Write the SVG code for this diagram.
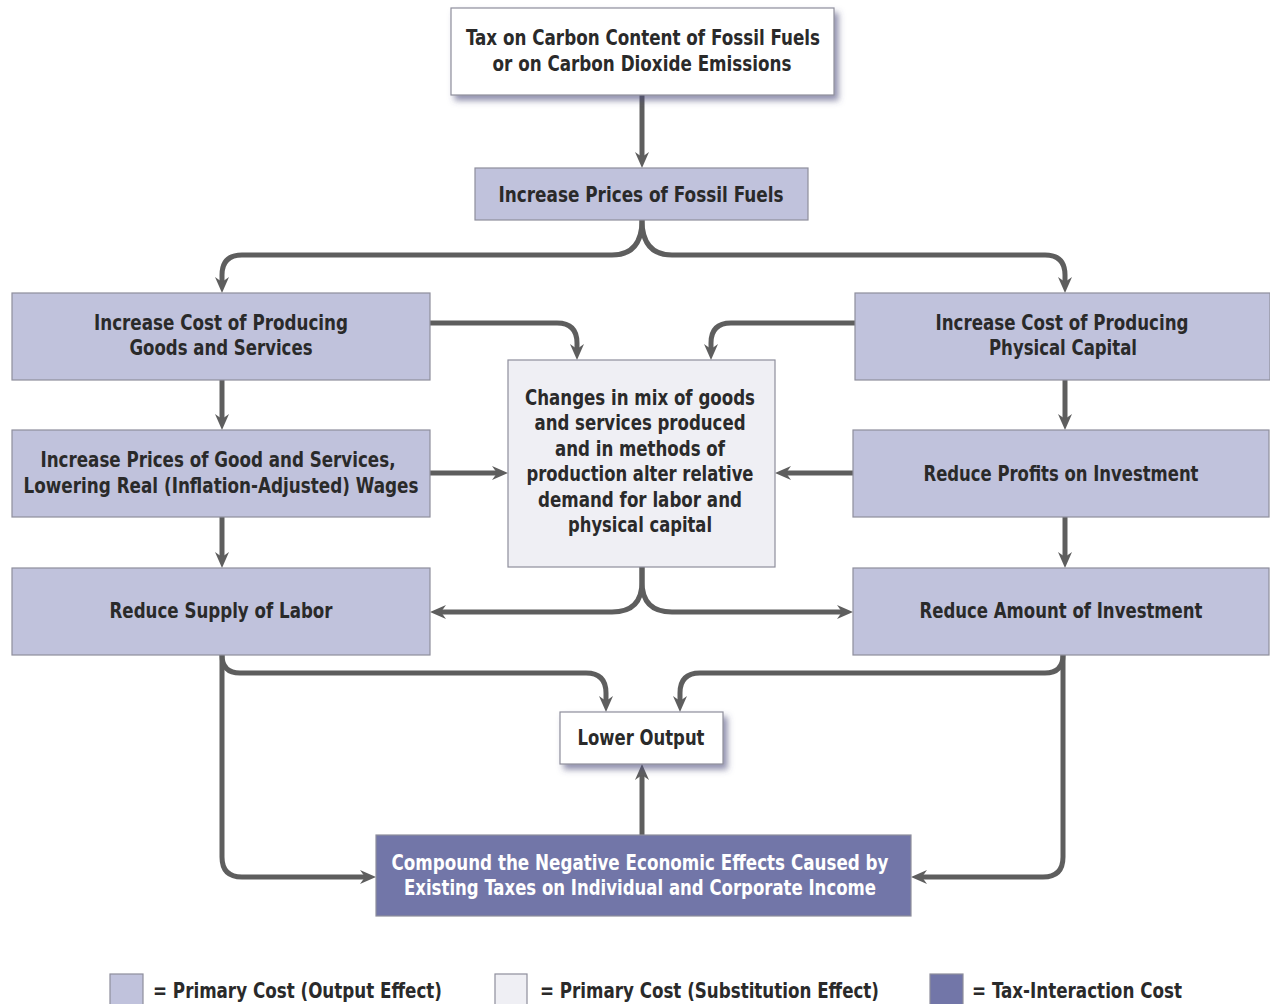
<svg xmlns="http://www.w3.org/2000/svg" width="1270" height="1004" viewBox="0 0 1270 1004">
<style>
text{font-family:"DejaVu Sans Condensed","Liberation Sans",sans-serif;font-weight:bold;font-size:21px;fill:#2a2a2a;text-anchor:middle}
.lt{text-anchor:start}
.w{fill:#ffffff}
.box{stroke:#8e8e9c;stroke-width:1.2}
.p{fill:#c0c2dc}
.c{fill:#efeff4}
.d{fill:#7276a8}
.wh{fill:#ffffff}
.con{fill:none;stroke:#5e5e5e;stroke-width:5}
</style>
<defs>
<marker id="ah" viewBox="0 0 16 14" refX="7" refY="7" markerWidth="16" markerHeight="14" markerUnits="userSpaceOnUse" orient="auto">
<path d="M0,0 L16,7 L0,14 L5,7 Z" fill="#5e5e5e"/>
</marker>
<filter id="sh" x="-10%" y="-20%" width="130%" height="160%">
<feDropShadow dx="4" dy="5" stdDeviation="3" flood-color="#4a4a78" flood-opacity="0.6"/>
</filter>
</defs>
<g id="connectors">
<path class="con" d="M642,95 V159" marker-end="url(#ah)"/>
<path class="con" d="M642,220 Q642,255 612,255 H242 Q222,255 222,275 V284" marker-end="url(#ah)"/>
<path class="con" d="M642,220 Q642,255 672,255 H1045 Q1065,255 1065,275 V284" marker-end="url(#ah)"/>
<path class="con" d="M430,323 H557 Q577,323 577,343 V351" marker-end="url(#ah)"/>
<path class="con" d="M855,323 H731 Q711,323 711,343 V351" marker-end="url(#ah)"/>
<path class="con" d="M222,380 V421" marker-end="url(#ah)"/>
<path class="con" d="M222,517 V559" marker-end="url(#ah)"/>
<path class="con" d="M1065,380 V421" marker-end="url(#ah)"/>
<path class="con" d="M1065,517 V559" marker-end="url(#ah)"/>
<path class="con" d="M430,473 H499" marker-end="url(#ah)"/>
<path class="con" d="M853,473 H784" marker-end="url(#ah)"/>
<path class="con" d="M642,567 V582 Q642,612 612,612 H439" marker-end="url(#ah)"/>
<path class="con" d="M642,567 V582 Q642,612 672,612 H844" marker-end="url(#ah)"/>
<path class="con" d="M222,655 Q222,673 240,673 H586 Q606,673 606,693 V703" marker-end="url(#ah)"/>
<path class="con" d="M222,655 V857 Q222,877 242,877 H367" marker-end="url(#ah)"/>
<path class="con" d="M1063,655 Q1063,673 1045,673 H700 Q680,673 680,693 V703" marker-end="url(#ah)"/>
<path class="con" d="M1063,655 V857 Q1063,877 1043,877 H920" marker-end="url(#ah)"/>
<path class="con" d="M642,835 V773" marker-end="url(#ah)"/>
</g>
<g id="n-tax">
<rect class="box wh" x="451" y="8" width="383" height="87" filter="url(#sh)"/>
<text x="643" y="44.5" textLength="354" lengthAdjust="spacingAndGlyphs">Tax on Carbon Content of Fossil Fuels</text>
<text x="642" y="70.5" textLength="299" lengthAdjust="spacingAndGlyphs">or on Carbon Dioxide Emissions</text>
</g>
<g id="n-prices">
<rect class="box p" x="475" y="168" width="333" height="52"/>
<text x="641" y="201.5" textLength="285" lengthAdjust="spacingAndGlyphs">Increase Prices of Fossil Fuels</text>
</g>
<g id="n-cost-goods">
<rect class="box p" x="12" y="293" width="418" height="87"/>
<text x="221" y="329.5" textLength="254" lengthAdjust="spacingAndGlyphs">Increase Cost of Producing</text>
<text x="221" y="354.5" textLength="183" lengthAdjust="spacingAndGlyphs">Goods and Services</text>
</g>
<g id="n-cost-capital">
<rect class="box p" x="855" y="293" width="415" height="87"/>
<text x="1062" y="329.5" textLength="253" lengthAdjust="spacingAndGlyphs">Increase Cost of Producing</text>
<text x="1063" y="354.5" textLength="148" lengthAdjust="spacingAndGlyphs">Physical Capital</text>
</g>
<g id="n-prices-goods">
<rect class="box p" x="12" y="430" width="418" height="87"/>
<text x="218" y="466.5" textLength="355" lengthAdjust="spacingAndGlyphs">Increase Prices of Good and Services,</text>
<text x="221" y="492.5" textLength="395" lengthAdjust="spacingAndGlyphs">Lowering Real (Inflation-Adjusted) Wages</text>
</g>
<g id="n-profits">
<rect class="box p" x="853" y="430" width="416" height="87"/>
<text x="1061" y="480.5" textLength="275" lengthAdjust="spacingAndGlyphs">Reduce Profits on Investment</text>
</g>
<g id="n-labor">
<rect class="box p" x="12" y="568" width="418" height="87"/>
<text x="221" y="617.5" textLength="223" lengthAdjust="spacingAndGlyphs">Reduce Supply of Labor</text>
</g>
<g id="n-investment">
<rect class="box p" x="853" y="568" width="416" height="87"/>
<text x="1061" y="617.5" textLength="283" lengthAdjust="spacingAndGlyphs">Reduce Amount of Investment</text>
</g>
<g id="n-changes">
<rect class="box c" x="508" y="360" width="267" height="207"/>
<text x="640" y="404.5" textLength="230" lengthAdjust="spacingAndGlyphs">Changes in mix of goods</text>
<text x="640" y="430" textLength="211" lengthAdjust="spacingAndGlyphs">and services produced</text>
<text x="640" y="455.5" textLength="170" lengthAdjust="spacingAndGlyphs">and in methods of</text>
<text x="640" y="481" textLength="227" lengthAdjust="spacingAndGlyphs">production alter relative</text>
<text x="640" y="506.5" textLength="204" lengthAdjust="spacingAndGlyphs">demand for labor and</text>
<text x="640" y="532" textLength="144" lengthAdjust="spacingAndGlyphs">physical capital</text>
</g>
<g id="n-output">
<rect class="box wh" x="560" y="712" width="163" height="52" filter="url(#sh)"/>
<text x="641" y="744.5" textLength="127" lengthAdjust="spacingAndGlyphs">Lower Output</text>
</g>
<g id="n-compound">
<rect class="box d" x="376" y="835" width="535" height="81"/>
<text class="w" x="640" y="869.5" textLength="497" lengthAdjust="spacingAndGlyphs">Compound the Negative Economic Effects Caused by</text>
<text class="w" x="640" y="894.5" textLength="472" lengthAdjust="spacingAndGlyphs">Existing Taxes on Individual and Corporate Income</text>
</g>
<g id="legend">
<rect class="box p" x="110" y="974" width="33" height="32"/>
<text class="lt" x="153" y="997.5" textLength="289" lengthAdjust="spacingAndGlyphs">= Primary Cost (Output Effect)</text>
<rect class="box c" x="495" y="974" width="32" height="32"/>
<text class="lt" x="540" y="997.5" textLength="339" lengthAdjust="spacingAndGlyphs">= Primary Cost (Substitution Effect)</text>
<rect class="box d" x="930" y="974" width="33" height="32"/>
<text class="lt" x="972" y="997.5" textLength="210" lengthAdjust="spacingAndGlyphs">= Tax-Interaction Cost</text>
</g>
</svg>
